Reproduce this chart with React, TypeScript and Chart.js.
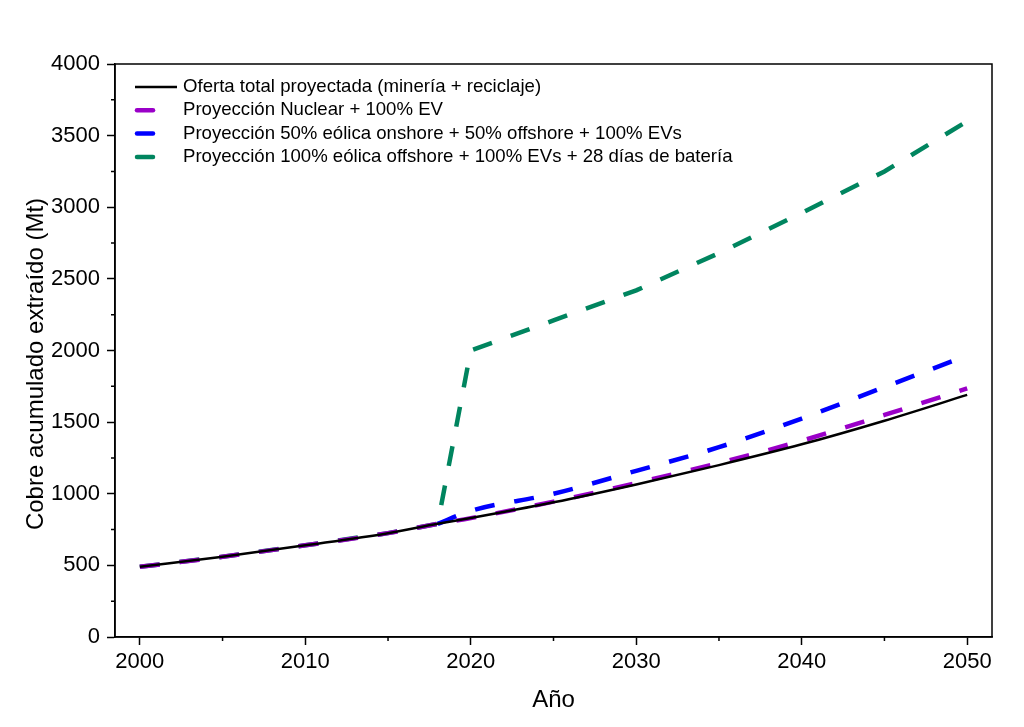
import React, { useEffect, useRef } from "react";
import { Chart, registerables } from "chart.js";

Chart.register(...registerables);

const years = [2000, 2005, 2010, 2015, 2018, 2020, 2025, 2030, 2035, 2040, 2045, 2050];
const supplyTotal = [490, 560, 640, 725, 790, 830, 940, 1065, 1200, 1345, 1510, 1690];
const nuclearEV = [490, 560, 640, 725, 790, 830, 945, 1075, 1215, 1370, 1550, 1735];
const windMixYears = [2018, 2020, 2025, 2030, 2035, 2040, 2045, 2050];
const windMix = [790, 880, 1000, 1160, 1325, 1525, 1745, 1965];
const offshoreBattery = [490, 560, 640, 725, 790, 2000, 2210, 2420, 2680, 2960, 3250, 3600];

const xMajorTicks = [2000, 2010, 2020, 2030, 2040, 2050];
const xMinorTicks = [2005, 2015, 2025, 2035, 2045];
const yMajorTicks = [0, 500, 1000, 1500, 2000, 2500, 3000, 3500, 4000];
const yMinorTicks = [250, 750, 1250, 1750, 2250, 2750, 3250, 3750];

const xTitle = "Año";
const yTitle = "Cobre acumulado extraído (Mt)";
const legendLabels = [
  "Oferta total proyectada (minería + reciclaje)",
  "Proyección Nuclear + 100% EV",
  "Proyección 50% eólica onshore + 50% offshore + 100% EVs",
  "Proyección 100% eólica offshore + 100% EVs + 28 días de batería",
];
const colors = ["#000000", "#9A00C8", "#0000FF", "#00855F"];

const FONT = "'Liberation Sans', Arial, sans-serif";

const pts = (xs: number[], ys: number[]) => xs.map((x, i) => ({ x, y: ys[i] }));

const framePlugin = {
  id: "frame",
  afterDraw(chart: any) {
    const { ctx, chartArea } = chart;
    const { left, right, top, bottom } = chartArea;
    const xs = chart.scales.x;
    const ys = chart.scales.y;
    ctx.save();
    ctx.strokeStyle = "#000";
    ctx.lineWidth = 1.5;
    ctx.strokeRect(left, top, right - left, bottom - top);
    ctx.beginPath();
    xMinorTicks.forEach((v) => {
      const px = xs.getPixelForValue(v);
      ctx.moveTo(px, bottom);
      ctx.lineTo(px, bottom + 4);
    });
    yMinorTicks.forEach((v) => {
      const py = ys.getPixelForValue(v);
      ctx.moveTo(left, py);
      ctx.lineTo(left - 4, py);
    });
    ctx.stroke();

    // axis titles
    ctx.fillStyle = "#000";
    ctx.font = `24px ${FONT}`;
    ctx.textAlign = "center";
    ctx.textBaseline = "alphabetic";
    ctx.fillText(xTitle, (left + right) / 2, 707);
    ctx.save();
    ctx.translate(43, 364);
    ctx.rotate(-Math.PI / 2);
    ctx.fillText(yTitle, 0, 0);
    ctx.restore();

    // legend
    ctx.font = `18.6px ${FONT}`;
    ctx.textBaseline = "middle";
    ctx.textAlign = "left";
    legendLabels.forEach((label, i) => {
      const y = 87 + i * 23.3;
      ctx.beginPath();
      ctx.strokeStyle = colors[i];
      if (i === 0) {
        ctx.lineWidth = 2.5;
        ctx.moveTo(135, y);
        ctx.lineTo(177, y);
      } else {
        ctx.lineWidth = 4.5;
        ctx.lineCap = "round";
        ctx.moveTo(137, y);
        ctx.lineTo(153, y);
      }
      ctx.stroke();
      ctx.lineCap = "butt";
      ctx.fillStyle = "#000";
      ctx.fillText(label, 183, y);
    });
    ctx.restore();
  },
};

export default function App() {
  const ref = useRef<HTMLCanvasElement>(null);
  useEffect(() => {
    document.body.style.margin = "0";
    const dash = [20, 20];
    const chart = new Chart(ref.current!, {
      type: "line",
      data: {
        datasets: [
          {
            label: legendLabels[0],
            data: pts(years, supplyTotal),
            borderColor: colors[0],
            borderWidth: 2.5,
            pointRadius: 0,
            cubicInterpolationMode: "monotone",
          },
          {
            label: legendLabels[1],
            data: pts(years, nuclearEV),
            borderColor: colors[1],
            borderWidth: 4.5,
            borderDash: dash,
            pointRadius: 0,
            cubicInterpolationMode: "monotone",
          },
          {
            label: legendLabels[2],
            data: pts(windMixYears, windMix),
            borderColor: colors[2],
            borderWidth: 4.5,
            borderDash: dash,
            pointRadius: 0,
            cubicInterpolationMode: "monotone",
          },
          {
            label: legendLabels[3],
            data: pts(years, offshoreBattery),
            borderColor: colors[3],
            borderWidth: 4.5,
            borderDash: dash,
            pointRadius: 0,
            tension: 0,
          },
        ],
      },
      options: {
        animation: false,
        responsive: false,
        layout: { padding: { top: 64, right: 32, left: 0, bottom: 0 } },
        plugins: { legend: { display: false }, tooltip: { enabled: false } },
        scales: {
          x: {
            type: "linear",
            min: 1998.5,
            max: 2051.5,
            afterBuildTicks: (s: any) => {
              s.ticks = xMajorTicks.map((v) => ({ value: v }));
            },
            afterFit: (s: any) => {
              s.height = 90;
            },
            grid: { drawOnChartArea: false, drawTicks: true, tickLength: 8, tickWidth: 1.5, tickColor: "#000" },
            border: { display: true, color: "#000", width: 1.5 },
            ticks: { color: "#000", font: { family: FONT, size: 22 }, padding: 4, maxRotation: 0, callback: (v: any) => String(v) },
            title: { display: false },
          },
          y: {
            type: "linear",
            min: 0,
            max: 4000,
            afterBuildTicks: (s: any) => {
              s.ticks = yMajorTicks.map((v) => ({ value: v }));
            },
            afterFit: (s: any) => {
              s.width = 115;
            },
            grid: { drawOnChartArea: false, drawTicks: true, tickLength: 8, tickWidth: 1.5, tickColor: "#000" },
            border: { display: true, color: "#000", width: 1.5 },
            ticks: { color: "#000", font: { family: FONT, size: 22 }, padding: 7, callback: (v: any) => String(v) },
            title: { display: false },
          },
        },
      },
      plugins: [framePlugin],
    } as any);
    return () => chart.destroy();
  }, []);
  return <canvas ref={ref} width={1024} height={727} style={{ display: "block" }} />;
}
